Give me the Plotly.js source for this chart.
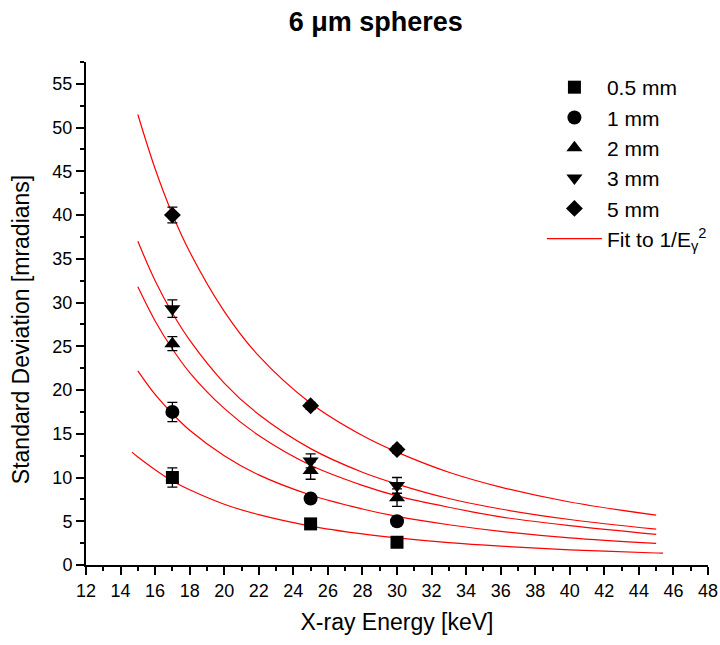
<!DOCTYPE html>
<html><head><meta charset="utf-8">
<script src="https://cdn.plot.ly/plotly-3.0.1.min.js"></script>
<style>body{margin:0;background:#fff}#chart{width:720px;height:645px}</style>
</head><body><div id="chart"></div>
<script>
// Measured data (X-ray energy in keV, standard deviation in mradians)
const energies = [17, 25, 30];
const names = ["0.5 mm", "1 mm", "2 mm", "3 mm", "5 mm"];
const y05 = [10.0, 4.7, 2.6];
const e05 = [1.1, 0.3, 0.3];
const y1 = [17.5, 7.6, 5.0];
const e1 = [1.1, 0.4, 0.4];
const y2 = [25.3, 10.8, 7.7];
const e2 = [0.8, 1.0, 1.0];
const y3 = [29.3, 11.9, 9.1];
const e3 = [1.0, 0.8, 0.9];
const y5 = [40.0, 18.2, 13.2];
const e5 = [0.9, 0.4, 0.4];

// Fit curves (1/E^2)
const fitX = [15, 16, 17, 18, 20, 22, 25, 28, 30, 33, 36, 40, 45];
const fitX05 = [14.66, 15, 16, 17, 18, 20, 22, 25, 28, 30, 33, 36, 40, 45, 45.4];
const fit05 = [12.9, 12.35, 10.9, 9.6, 8.6, 6.95, 5.75, 4.45, 3.55, 3.09, 2.55, 2.15, 1.74, 1.37, 1.35];
const fit1 = [22.2, 19.5, 17.3, 15.4, 12.5, 10.3, 8.0, 6.4, 5.55, 4.6, 3.85, 3.1, 2.47];
const fit2 = [31.8, 27.9, 24.7, 22.0, 17.9, 14.8, 11.4, 9.1, 7.9, 6.6, 5.5, 4.5, 3.5];
const fit3 = [37.0, 32.5, 28.8, 25.7, 20.8, 17.2, 13.3, 10.6, 9.25, 7.6, 6.4, 5.2, 4.1];
const fit5 = [51.5, 45.3, 40.1, 35.8, 29.0, 23.9, 18.5, 14.8, 12.9, 10.6, 8.9, 7.2, 5.7];
const fitName = "Fit to 1/E<sub>γ</sub><sup>2</sup>";

const F = "Arial, 'Liberation Sans', sans-serif";
const traces = [];
const fits = [[fitX05, fit05], [fitX, fit1], [fitX, fit2], [fitX, fit3], [fitX, fit5]];
fits.forEach((f, i) => {
  traces.push({
    x: f[0], y: f[1], mode: "lines", type: "scatter",
    line: {color: "#ff0000", width: 1.2, shape: "spline"},
    name: fitName, showlegend: i === 0, legendgroup: "fit", legendrank: 10,
    hoverinfo: "skip"
  });
});
const ys = [y05, y1, y2, y3, y5];
const es = [e05, e1, e2, e3, e5];
const syms = ["square", "circle", "triangle-up", "triangle-down", "diamond"];
const sizes = [13, 14, 14, 14, 13];
ys.forEach((y, i) => {
  traces.push({
    x: energies, y: y, mode: "markers", type: "scatter", name: names[i],
    legendgroup: "g" + i, legendrank: i + 1,
    marker: {symbol: syms[i], size: sizes[i], color: "#000"},
    error_y: {type: "data", array: es[i], visible: true, color: "#000", thickness: 1.3, width: 5}
  });
});

const layout = {
  width: 720, height: 645,
  margin: {l: 86, r: 12, t: 62, b: 80, autoexpand: false},
  paper_bgcolor: "#fff", plot_bgcolor: "#fff",
  font: {family: F, color: "#000", size: 18},
  title: {text: "<b>6 μm spheres</b>", font: {family: F, size: 27, color: "#000"},
          x: 0.522, xref: "container", xanchor: "center", y: 0.966, yref: "container", yanchor: "middle"},
  xaxis: {
    range: [12, 48], dtick: 2, tick0: 12, showgrid: false, zeroline: false, automargin: false,
    showline: true, linecolor: "#000", linewidth: 2,
    ticks: "outside", ticklen: 8, tickwidth: 2, tickcolor: "#000",
    minor: {dtick: 1, ticks: "outside", ticklen: 4, tickwidth: 2, tickcolor: "#000", showgrid: false},
    tickfont: {family: F, size: 18, color: "#000"},
    title: {text: "X-ray Energy [keV]", font: {family: F, size: 23, color: "#000"}, standoff: 14}
  },
  yaxis: {
    range: [0, 57.5], dtick: 5, tick0: 0, showgrid: false, zeroline: false, automargin: false,
    showline: true, linecolor: "#000", linewidth: 2,
    ticks: "outside", ticklen: 8, tickwidth: 2, tickcolor: "#000",
    minor: {dtick: 2.5, ticks: "outside", ticklen: 4, tickwidth: 2, tickcolor: "#000", showgrid: false},
    tickfont: {family: F, size: 18, color: "#000"},
    title: {text: "Standard Deviation [mradians]&nbsp;&nbsp;&nbsp;&nbsp;&nbsp;", font: {family: F, size: 23, color: "#000"}, standoff: 16}
  },
  legend: {
    x: 0.733, y: 0.99, xanchor: "left", yanchor: "top",
    bgcolor: "rgba(0,0,0,0)", borderwidth: 0,
    font: {family: F, size: 21, color: "#000"},
    traceorder: "grouped", tracegroupgap: 0, itemwidth: 55
  },
  showlegend: true
};
Plotly.newPlot("chart", traces, layout, {staticPlot: true, displayModeBar: false});
</script></body></html>
